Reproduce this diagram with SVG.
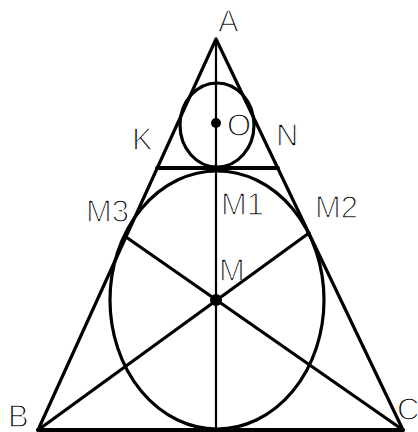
<svg xmlns="http://www.w3.org/2000/svg" width="418" height="432" viewBox="0 0 418 432">
<style>
.lbl{font-family:"Liberation Sans",Arial,sans-serif;font-size:31px;fill:#000;stroke:#fff;stroke-width:1.3px}
.ln{stroke:#000;fill:none;stroke-linecap:round;stroke-linejoin:round}
</style>
<rect width="418" height="432" fill="#fff"/>
<g id="labels" opacity="0.99">
<text class="lbl" x="218" y="32">A</text>
<text class="lbl" x="132" y="150">K</text>
<text class="lbl" x="227" y="136">O</text>
<text class="lbl" x="276" y="146">N</text>
<text class="lbl" x="221" y="215">M1</text>
<text class="lbl" x="86" y="222">M3</text>
<text class="lbl" x="315" y="218">M2</text>
<text class="lbl" x="219" y="281">M</text>
<text class="lbl" x="8" y="427">B</text>
<text class="lbl" x="397" y="420">C</text>
</g>
<g id="connectors">
<polygon id="triangle" class="ln" points="216,39 38,430 403,430" stroke-width="3.2"/>
<line class="ln" x1="38" y1="430" x2="403" y2="430" stroke-width="4"/>
<line class="ln" x1="216" y1="39" x2="216" y2="430" stroke-width="2.2"/>
<line class="ln" x1="157" y1="168" x2="278" y2="168" stroke-width="3.8"/>
<line class="ln" x1="38" y1="430" x2="309" y2="233" stroke-width="3.2"/>
<line class="ln" x1="403" y1="430" x2="126" y2="237" stroke-width="3.2"/>
</g>
<g id="circleO">
<ellipse class="ln" cx="217" cy="125" rx="37" ry="42" stroke-width="3.2"/>
<circle cx="216" cy="123" r="5" fill="#000"/>
</g>
<g id="circleM">
<ellipse class="ln" cx="217" cy="300" rx="107" ry="129" stroke-width="3.2"/>
<circle cx="216" cy="300" r="6" fill="#000"/>
</g>
</svg>
